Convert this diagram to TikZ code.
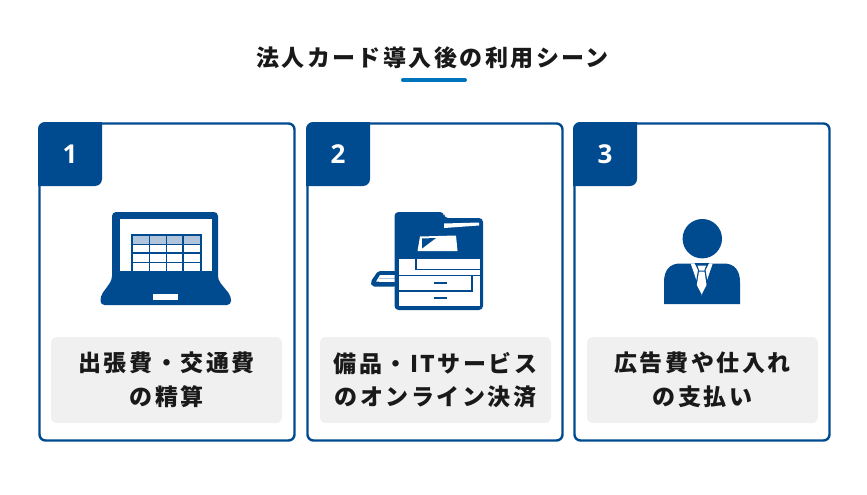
\documentclass[tikz,border=0pt]{standalone}
\usepackage{fontspec}
\setmainfont{Noto Sans CJK JP}
\newfontfamily\titlefont{Noto Sans CJK JP}[LetterSpace=10.7]
\newfontfamily\labelfont{Noto Sans CJK JP}[LetterSpace=11]
\newfontfamily\numfont{Open Sans}
\definecolor{navy}{HTML}{004A8F}
\definecolor{accent}{HTML}{0073BD}
\definecolor{panel}{HTML}{F0F0F0}
\definecolor{headrow}{HTML}{B0C4DC}
\tikzset{
  cardbox/.style={draw=navy, line width=2.4pt, rounded corners=6pt, fill=white, minimum width=255pt, minimum height=317pt, inner sep=0pt},
  labelbox/.style={fill=panel, rounded corners=6pt, minimum width=231pt, minimum height=86pt, inner sep=0pt, align=center, font=\labelfont\bfseries\fontsize{23}{33.5}\selectfont, text=black!90},
  numtext/.style={text=white, font=\numfont\bfseries\fontsize{26}{26}\selectfont, inner sep=0pt},
}
\begin{document}
\begin{tikzpicture}[x=1pt, y=-1pt]
        \useasboundingbox (0,0) rectangle (867,495);

        % ------------------ Title ------------------

        \node[font=\titlefont\bfseries\fontsize{23}{26}\selectfont, text=black!90, inner sep=0pt] (title) at (432.5,57.5) {法人カード導入後の利用シーン};
        \draw[accent, line width=4pt, line cap=round] (403,80) -- (465,80);

        % ------------------ Cards ------------------

        \node[cardbox] (card1) at (167,282) {};
        \node[cardbox] (card2) at (435,282) {};
        \node[cardbox] (card3) at (702,282) {};

        % Badges
        \fill[navy] (38,129) arc (180:270:7) -- (102,122) -- (102,179) arc (0:90:7) -- (38,186) -- cycle;
        \fill[navy] (306,129) arc (180:270:7) -- (370,122) -- (370,179) arc (0:90:7) -- (306,186) -- cycle;
        \fill[navy] (573,129) arc (180:270:7) -- (637,122) -- (637,179) arc (0:90:7) -- (573,186) -- cycle;

        \node[numtext] (num1) at (70,154) {1};
        \node[numtext] (num2) at (338,154) {2};
        \node[numtext] (num3) at (605,154) {3};

        % Labels
        \node[labelbox] (label1) at (166.5,380) {出張費・交通費\\の精算};
        \node[labelbox] (label2) at (435.5,380) {備品・ITサービス\\のオンライン決済};
        \node[labelbox] (label3) at (702.5,380) {広告費や仕入れ\\の支払い};

        % ------------------ Laptop ------------------

        \fill[navy, rounded corners=4pt] (112,280) -- (112,212) -- (218,212) -- (218,280) -- (231,296) -- (231,305) -- (100.5,305) -- (100.5,296) -- cycle;
        \fill[white] (120,219) rectangle (212,271);
        \fill[white] (153,294) rectangle (178,300);
        \fill[headrow] (132,235) rectangle (201,244.5);
        \draw[navy, line width=1.2pt] (132,271) -- (132,235) -- (201,235) -- (201,271);
        \draw[navy, line width=1.2pt] (132,244.5) -- (201,244.5);
        \draw[navy, line width=1.2pt] (132,253) -- (201,253);
        \draw[navy, line width=1.2pt] (132,262.5) -- (201,262.5);
        \draw[navy, line width=1.2pt] (149.5,235) -- (149.5,271);
        \draw[navy, line width=1.2pt] (166.5,235) -- (166.5,271);
        \draw[navy, line width=1.2pt] (183,235) -- (183,271);

        % ------------------ Printer ------------------

        % Tray
        \fill[navy, rounded corners=2pt] (370.5,282) -- (378,271) -- (396,271) -- (396,286.5) -- (372,286.5) -- cycle;
        \fill[white] (376,281.7) -- (380,275) -- (396,275) -- (396,282) -- cycle;
        \draw[headrow, line width=0.8pt] (379,278.3) -- (396,278.3);

        % Body
        \fill[navy, rounded corners=4pt] (394.5,310) -- (394.5,212) -- (444,212) -- (444,218) -- (483,218) -- (483,310) -- cycle;
        \fill[white] (444,223.5) -- (479,222.5) -- (479,225.5) -- (444,228) -- cycle;
        \fill[white] (420,236.5) -- (456,235.5) -- (457.5,251) -- (417.5,251) -- cycle;
        \fill[navy] (422,238.5) -- (436,238) -- (422,248.5) -- cycle;

        % Lower part
        \fill[white] (398.5,259) rectangle (479.5,305.5);
        \draw[navy, line width=1.7pt] (416,259) -- (416,269.5) -- (479.5,269.5);
        \draw[navy, line width=1.7pt] (398.5,275.5) -- (472,275.5) -- (472,291) -- (398.5,291);
        \draw[navy, line width=1.7pt] (472,275.5) -- (479.5,275.5);
        \draw[navy, line width=2pt] (433.7,282.7) -- (447,282.7);
        \draw[navy, line width=2pt] (433.7,297.7) -- (447,297.7);

        % ------------------ Person ------------------

        \fill[navy] (702.3,238.7) circle (19.7);
        \fill[navy] (664,304) -- (664,282) .. controls (664,270) and (670,263.5) .. (680,263.5) -- (724,263.5) .. controls (734,263.5) and (740,270) .. (740,282) -- (740,304) -- cycle;
        \fill[white] (690.7,263.5) -- (712.7,263.5) -- (701.7,295.7) -- cycle;
        \fill[navy] (694.5,263) -- (709,263) -- (705.5,270) -- (708,285) -- (701.7,295.7) -- (695.5,285) -- (698,270) -- cycle;
        \fill[white] (697.5,265.5) -- (706,265.5) -- (704.3,270.5) -- (699.3,270.5) -- cycle;
        \fill[white] (699,271.5) -- (704.5,271.5) -- (706.5,285) -- (701.7,294.5) -- (696.8,285) -- cycle;

\end{tikzpicture}
\end{document}
